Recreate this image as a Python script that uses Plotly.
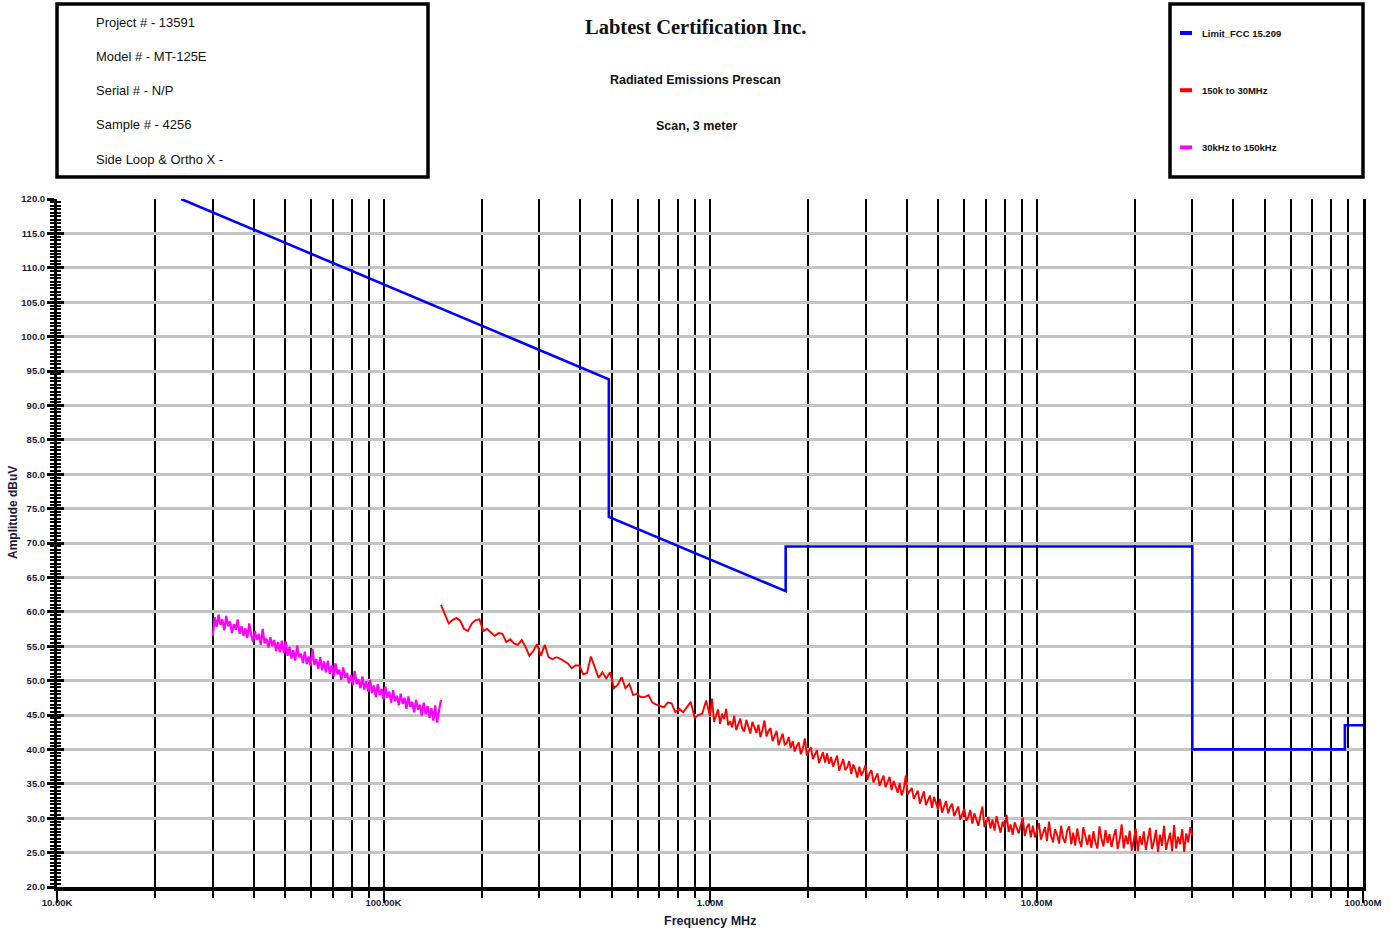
import numpy as np
import plotly.graph_objects as go

# ---------------- data ----------------
# FCC 15.209 limit, breakpoints (Hz, dBuV)
limit_freq = [24e3, 490e3, 490e3, 1.705e6, 1.705e6, 30e6, 30e6, 88e6, 88e6, 100e6]
limit_db = [120.0, 93.8, 73.8, 63.0, 69.5, 69.5, 40.0, 40.0, 43.5, 43.5]

# 30 kHz - 150 kHz sweep (120 points, log spaced)
mag_sweep = (30e3, 150e3, 120)
mag_db = [
    56.5, 59.2, 57.8, 59.6, 58.1, 58.9, 57.3, 59.4, 57.9, 58.6,
    56.9, 58.2, 57.4, 58.9, 56.8, 57.9, 56.5, 57.6, 56.2, 58.3,
    56.7, 55.6, 57.2, 55.9, 56.8, 55.2, 57.5, 55.4, 56.1, 54.8,
    56.3, 55.0, 55.9, 54.3, 55.6, 54.1, 55.8, 54.0, 55.7, 53.6,
    54.9, 53.2, 54.4, 52.9, 55.1, 53.4, 53.9, 52.6, 54.2, 52.4,
    53.5, 52.1, 54.6, 52.3, 53.1, 51.7, 53.4, 51.5, 52.8, 51.2,
    52.9, 51.0, 52.2, 50.6, 52.5, 50.9, 51.6, 50.1, 51.9, 50.4,
    51.1, 49.6, 50.8, 49.3, 51.4, 49.5, 50.2, 48.9, 50.6, 48.7,
    49.9, 48.4, 50.1, 48.2, 49.3, 47.6, 49.5, 47.9, 48.8, 47.3,
    49.1, 47.5, 48.4, 46.8, 48.6, 47.0, 47.8, 46.4, 48.1, 46.6,
    47.5, 45.9, 47.7, 46.2, 46.9, 45.4, 47.2, 45.8, 46.5, 44.9,
    46.8, 45.1, 46.3, 44.6, 46.0, 44.2, 46.4, 43.9, 45.7, 47.2,
]

# 150 kHz - 30 MHz sweep: low segment (70 pts) + high segment (240 pts)
red_sweep_low = (150e3, 1e6, 70)
red_sweep_high = (1e6, 30e6, 240)
red_db_low = [
    61.0, 59.6, 58.3, 58.8, 59.1, 58.7, 57.5, 57.2, 58.3, 58.8,
    58.9, 57.2, 57.5, 57.0, 56.5, 56.9, 56.8, 55.6, 56.0, 55.4,
    55.2, 55.9, 54.9, 53.6, 54.3, 55.3, 53.6, 55.2, 53.4, 53.1,
    53.4, 53.2, 52.9, 52.5, 51.8, 52.2, 52.2, 50.9, 51.1, 53.5,
    52.0, 50.4, 51.2, 50.3, 51.2, 48.9, 49.4, 50.5, 48.9, 49.5,
    47.9, 48.1, 47.6, 47.6, 47.9, 46.8, 46.5, 46.3, 46.1, 46.8,
    46.7, 45.4, 45.9, 45.4, 46.2, 46.9, 44.6, 45.0, 45.2, 47.1,
]
red_db_high = [
    44.8, 47.4, 44.0, 44.9, 45.8, 43.7, 45.2, 44.4, 45.9, 43.5,
    44.1, 43.2, 44.9, 42.8, 43.6, 44.5, 43.0, 42.6, 44.3, 43.4,
    42.3, 44.0, 43.1, 42.4, 43.6, 41.8, 42.9, 44.2, 41.9, 42.7,
    43.1, 41.2, 41.9, 42.7, 40.6, 41.5, 42.3, 40.7, 40.9, 41.8,
    40.2, 41.2, 39.7, 40.5, 41.0, 39.3, 40.1, 41.6, 39.1, 39.8,
    40.3, 38.6, 39.2, 39.9, 38.0, 38.8, 39.6, 38.1, 39.4, 37.9,
    38.9, 37.5, 38.2, 39.1, 36.9, 37.8, 38.6, 37.0, 37.4, 38.3,
    36.4, 37.8, 37.1, 35.9, 37.5, 36.2, 36.8, 37.7, 35.6, 36.5,
    37.0, 35.2, 35.9, 36.5, 34.7, 35.6, 36.2, 34.5, 35.3, 36.0,
    34.1, 35.4, 34.6, 33.7, 35.1, 33.3, 34.2, 36.2, 33.5, 34.0,
    34.4, 32.8, 33.5, 34.0, 32.1, 33.2, 33.9, 31.9, 32.7, 33.3,
    31.5, 33.1, 32.2, 31.2, 32.8, 30.8, 31.7, 32.5, 30.7, 31.6,
    32.1, 30.3, 31.0, 31.7, 29.8, 30.6, 31.4, 29.6, 30.2, 31.2,
    29.2, 30.7, 29.9, 28.9, 30.4, 31.7, 28.7, 29.6, 30.2, 28.5,
    29.8, 28.2, 30.3, 29.0, 27.9, 29.5, 28.6, 30.5, 28.0, 29.1,
    27.6, 29.4, 28.5, 27.8, 29.0, 30.1, 27.4, 28.6, 29.2, 27.2,
    28.9, 27.2, 28.1, 29.3, 26.9, 27.8, 28.7, 26.7, 29.5, 27.4,
    26.5, 28.4, 27.6, 26.3, 28.9, 27.1, 26.4, 28.2, 28.8, 26.2,
    27.9, 26.0, 28.5, 26.8, 25.8, 28.7, 27.2, 26.1, 27.6, 25.7,
    28.1, 26.5, 25.6, 28.8, 27.0, 25.9, 28.3, 26.4, 27.7, 25.8,
    27.3, 28.4, 25.5, 26.9, 29.1, 25.6, 27.5, 26.2, 28.2, 25.3,
    26.8, 28.5, 25.2, 27.4, 26.1, 28.1, 25.4, 27.0, 28.6, 25.5,
    26.6, 28.3, 25.1, 27.6, 26.0, 28.9, 25.4, 26.7, 27.9, 25.2,
    29.0, 25.6, 27.3, 26.2, 28.4, 25.1, 27.8, 26.5, 28.7, 27.5,
]

x_major_vals = [1e4, 1e5, 1e6, 1e7, 1e8]
x_major_text = ["10.00K", "100.00K", "1.00M", "10.00M", "100.00M"]

info_lines = ["Project # - 13591", "Model # - MT-125E", "Serial # - N/P",
              "Sample # - 4256", "Side Loop & Ortho X -"]
legend_names = ["Limit_FCC 15.209", "150k to 30MHz", "30kHz to 150kHz"]
legend_colors = ["#0000ff", "#ff0000", "#ff00ff"]

# ---------------- sweep frequency points ----------------
mag_freq = np.geomspace(mag_sweep[0], mag_sweep[1], mag_sweep[2])
red_freq = np.concatenate([
    np.geomspace(red_sweep_low[0], red_sweep_low[1], red_sweep_low[2], endpoint=False),
    np.geomspace(red_sweep_high[0], red_sweep_high[1], red_sweep_high[2]),
])
red_db = red_db_low + red_db_high

minor_x = [m * d for d in [1e4, 1e5, 1e6, 1e7] for m in range(2, 10)]

FONT = "Arial, Liberation Sans, sans-serif"
LBL = "#1a1a3a"

fig = go.Figure()
fig.add_trace(go.Scatter(x=mag_freq, y=mag_db, mode="lines",
                         line=dict(color="#ff00ff", width=2.2), name=legend_names[2],
                         showlegend=False))
fig.add_trace(go.Scatter(x=red_freq, y=red_db, mode="lines",
                         line=dict(color="#ff0000", width=1.9), name=legend_names[1],
                         showlegend=False))
fig.add_trace(go.Scatter(x=limit_freq, y=limit_db, mode="lines",
                         line=dict(color="#0000ff", width=2.6), name=legend_names[0],
                         showlegend=False))
# helper trace so the mirrored tick axis is drawn
fig.add_trace(go.Scatter(x=[], y=[], yaxis="y2", showlegend=False))

W, H = 1395, 932
L, R, T, B = 57, 32, 199, 45
pw, ph = W - L - R, H - T - B


def px(xp):
    return (xp - L) / pw


def py(yp):
    return (H - B - yp) / ph


shapes = [
    dict(type="rect", xref="paper", yref="paper", x0=px(57), x1=px(428), y0=py(177), y1=py(4),
         line=dict(color="black", width=3.5)),
    dict(type="rect", xref="paper", yref="paper", x0=px(1170), x1=px(1363), y0=py(177), y1=py(4),
         line=dict(color="black", width=3.5)),
]
annotations = []
for i, t in enumerate(info_lines):
    annotations.append(dict(text=t, xref="paper", yref="paper", x=px(94), y=py(22 + 34.3 * i),
                            xanchor="left", yanchor="middle", showarrow=False,
                            font=dict(family=FONT, size=13, color="#111")))
for i, (nm, c) in enumerate(zip(legend_names, legend_colors)):
    yy = 33 + 57.2 * i
    shapes.append(dict(type="line", xref="paper", yref="paper", x0=px(1180), x1=px(1192),
                       y0=py(yy), y1=py(yy), line=dict(color=c, width=4)))
    annotations.append(dict(text=nm, xref="paper", yref="paper", x=px(1200), y=py(yy),
                            xanchor="left", yanchor="middle", showarrow=False,
                            font=dict(family=FONT, size=9.5, color="#111", weight="bold")))

annotations += [
    dict(text="Labtest Certification Inc.", xref="paper", yref="paper", x=px(695), y=py(27),
         xanchor="center", yanchor="middle", showarrow=False,
         font=dict(family="Liberation Serif, Times New Roman, serif", size=20.5, color="#111",
                   weight="bold")),
    dict(text="Radiated Emissions Prescan", xref="paper", yref="paper", x=px(695), y=py(80),
         xanchor="center", yanchor="middle", showarrow=False,
         font=dict(family=FONT, size=12.5, color="#111", weight="bold")),
    dict(text="Scan, 3 meter", xref="paper", yref="paper", x=px(696), y=py(126),
         xanchor="center", yanchor="middle", showarrow=False,
         font=dict(family=FONT, size=12.5, color="#111", weight="bold")),
    dict(text="Amplitude dBuV", xref="paper", yref="paper", x=px(13), y=py(513),
         xanchor="center", yanchor="middle", showarrow=False, textangle=-90,
         font=dict(family=FONT, size=12, color=LBL, weight="bold")),
    dict(text="Frequency MHz", xref="paper", yref="paper", x=px(710), y=py(921),
         xanchor="center", yanchor="middle", showarrow=False,
         font=dict(family=FONT, size=12.5, color=LBL, weight="bold")),
]

fig.update_layout(
    width=W, height=H,
    margin=dict(l=L, r=R, t=T, b=B, pad=0),
    paper_bgcolor="white", plot_bgcolor="white",
    showlegend=False,
    shapes=shapes, annotations=annotations,
    xaxis=dict(
        type="log", range=[4, 8],
        tickmode="array", tickvals=x_major_vals, ticktext=x_major_text,
        ticks="outside", ticklen=12, tickwidth=2, tickcolor="black",
        ticklabelstandoff=-8,
        showgrid=True, gridcolor="black", gridwidth=2,
        minor=dict(tickmode="array", tickvals=minor_x, ticks="outside", ticklen=7,
                   tickwidth=2, tickcolor="black", showgrid=True, gridcolor="black",
                   gridwidth=2),
        showline=True, linecolor="black", linewidth=4,
        tickfont=dict(family=FONT, size=9.5, color=LBL, weight="bold"),
        zeroline=False, fixedrange=True,
    ),
    yaxis=dict(
        range=[20, 120], tick0=20, dtick=5, tickformat=".1f",
        ticks="outside", ticklen=7, tickwidth=3, tickcolor="black",
        showgrid=True, gridcolor="#c4c4c4", gridwidth=3,
        minor=dict(dtick=0.5, ticks="outside", ticklen=4, tickwidth=2, tickcolor="black",
                   showgrid=False),
        showline=True, linecolor="black", linewidth=3, mirror=True,
        tickfont=dict(family=FONT, size=9.5, color=LBL, weight="bold"),
        zeroline=False, fixedrange=True,
    ),
    yaxis2=dict(
        overlaying="y", side="left", range=[20, 120], tick0=20, dtick=5,
        ticks="inside", ticklen=7, tickwidth=3, tickcolor="black",
        minor=dict(dtick=0.5, ticks="inside", ticklen=4, tickwidth=2, tickcolor="black"),
        showticklabels=False, showgrid=False, showline=False, zeroline=False,
        fixedrange=True,
    ),
)

fig.write_html("out.html", config={"displayModeBar": False},
               post_script="document.body.style.margin='0';document.body.style.overflow='hidden';")
